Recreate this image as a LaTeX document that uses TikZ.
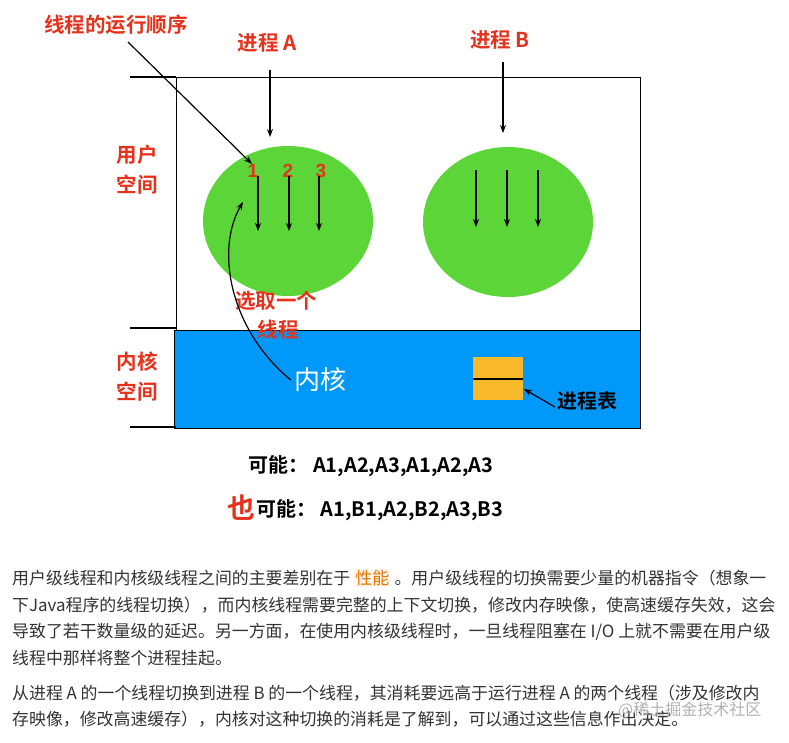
\documentclass[tikz,border=0pt]{standalone}
\usepackage{fontspec}
\setmainfont{Liberation Sans}
\newfontfamily\cjk{Noto Sans CJK SC}
\newfontfamily\cjkb{Noto Sans CJK SC Bold}
\usetikzlibrary{arrows.meta}
\definecolor{redt}{HTML}{E5321C}
\definecolor{grn}{HTML}{5BD538}
\definecolor{blu}{HTML}{0099FA}
\definecolor{org}{HTML}{F8BA2A}
\definecolor{txt}{HTML}{333333}
\begin{document}
\begin{tikzpicture}[x=1pt,y=-1pt,
  lbl/.style={text=redt,font=\cjkb\fontsize{20.5}{22}\selectfont,inner sep=0},
  arr/.style={-{Stealth[length=8pt,width=6pt]},line width=1.2pt},
  para/.style={anchor=west,text=txt,font=\cjk\fontsize{16.9}{18}\selectfont,inner sep=0}]
\useasboundingbox (0,0) rectangle (789,742);
\fill[white] (0,0) rectangle (789,742);
\draw[line width=1pt] (176,77) rectangle (640,330);
\filldraw[fill=blu,draw=black,line width=1pt] (174,330) rectangle (640,428);
\foreach \y in {77,328,427} \draw[line width=1.2pt] (130,\y) -- (176,\y);
\fill[grn] (288,221) ellipse [x radius=85,y radius=75];
\fill[grn] (508,222) ellipse [x radius=85,y radius=75];
\node[lbl] (pa) at (267,43) {进程 A};
\node[lbl] (pb) at (500,40) {进程 B};
\node[lbl] (order) at (116,25) {线程的运行顺序};
\node[lbl] (u1) at (137,155) {用户};
\node[lbl] (u2) at (137,185) {空间};
\node[lbl] (k1) at (137,362) {内核};
\node[lbl] (k2) at (137,392) {空间};
\coordinate (pat) at (270,137);
\coordinate (pbt) at (503,133);
\draw[arr] (270,70) -- (pat);
\draw[arr] (503,62) -- (pbt);
\foreach \x/\n in {253/1,288/2,321/3} \node[lbl,font=\bfseries\fontsize{19}{20}\selectfont] (t\n) at (\x,171) {\n};
\foreach \x in {258,289,319} \draw[arr] (\x,176) -- (\x,231);
\foreach \x in {476,507,538} \draw[arr] (\x,170) -- (\x,227);
\coordinate (o1) at (128,42);
\draw[arr] (o1) -- (252,164);
\node[lbl] (sel1) at (276,301) {选取一个};
\node[lbl] (sel2) at (278,330) {线程};
\node[text=white,font=\cjk\fontsize{26}{28}\selectfont,inner sep=0] (kn) at (320,380) {内核};
\draw[arr] (kn.west) ++(-3,0) .. controls (230,330) and (215,250) .. (243,202);
\fill[org] (473,357) rectangle (523,400);
\draw[line width=1.2pt] (473,379) -- (523,379);
\node[font=\cjkb\fontsize{20}{22}\selectfont,inner sep=0] (pt) at (587,401) {进程表};
\draw[arr] (pt.west) ++(-2,6) -- (524,389);
\node[font=\cjkb\fontsize{20}{22}\selectfont,inner sep=0] (m1) at (371,466) {可能：\ A1,A2,A3,A1,A2,A3};
\node[text=redt,font=\cjkb\fontsize{28}{30}\selectfont,inner sep=0] (ye) at (241,508) {也};
\node[font=\cjkb\fontsize{20}{22}\selectfont,inner sep=0,anchor=west] (m2) at (256,510) {可能：\ A1,B1,A2,B2,A3,B3};
\node[para] (l1) at (12,578) {用户级线程和内核级线程之间的主要差别在于 \tikz[baseline=(x.base)]\node[fill=orange!8,text=orange!90!black,inner sep=1.5pt](x){性能}; 。用户级线程的切换需要少量的机器指令（想象一};
\node[para] (l2) at (12,605) {下Java程序的线程切换），而内核线程需要完整的上下文切换，修改内存映像，使高速缓存失效，这会};
\node[para] (l3) at (12,632) {导致了若干数量级的延迟。另一方面，在使用内核级线程时，一旦线程阻塞在 I/O 上就不需要在用户级};
\node[para] (l4) at (12,658) {线程中那样将整个进程挂起。};
\node[para] (l5) at (12,693) {从进程 A 的一个线程切换到进程 B 的一个线程，其消耗要远高于运行进程 A 的两个线程（涉及修改内};
\node[para] (l6) at (12,719) {存映像，修改高速缓存），内核对这种切换的消耗是了解到，可以通过这些信息作出决定。};
\node[para,text=gray!60,font=\cjk\fontsize{16}{16}\selectfont] (wm) at (618,710) {@稀土掘金技术社区};
\end{tikzpicture}
\end{document}
